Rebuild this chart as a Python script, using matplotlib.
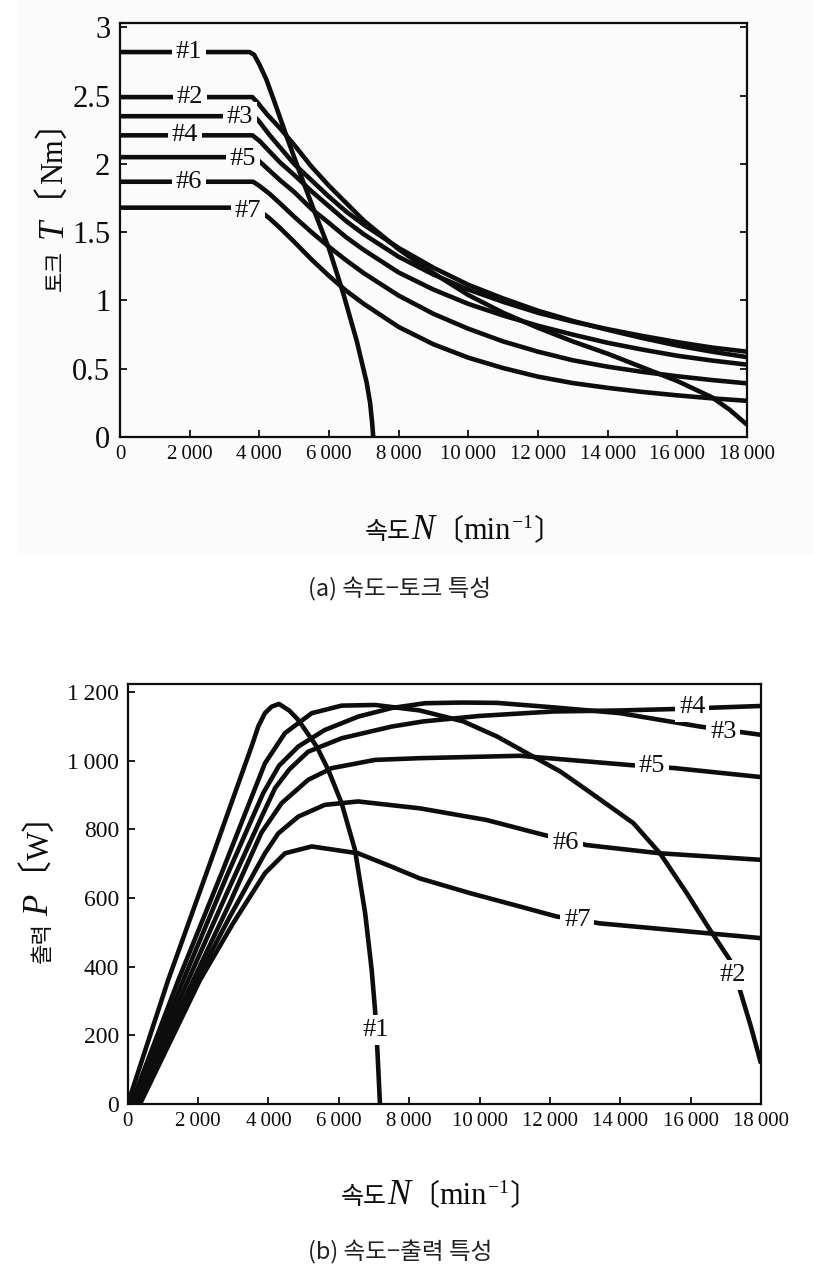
import matplotlib
matplotlib.use("Agg")
import matplotlib.pyplot as plt
from matplotlib.transforms import IdentityTransform
from matplotlib.patches import Rectangle

# ---------------- data ----------------
motors = ["#1", "#2", "#3", "#4", "#5", "#6", "#7"]

speed_ticks = [0, 2000, 4000, 6000, 8000, 10000, 12000, 14000, 16000, 18000]
speed_tick_labels = ["0", "2\u2009000", "4\u2009000", "6\u2009000", "8\u2009000", "10\u2009000",
                     "12\u2009000", "14\u2009000", "16\u2009000", "18\u2009000"]
torque_ticks = [0, 0.5, 1, 1.5, 2, 2.5, 3]
torque_tick_labels = ["0", "0.5", "1", "1.5", "2", "2.5", "3"]
power_ticks = [0, 200, 400, 600, 800, 1000, 1200]
power_tick_labels = ["0", "200", "400", "600", "800", "1\u2009000", "1\u2009200"]

# (a) speed - torque
t1_speed = [0, 3720, 3850, 4000, 4200, 4400, 4800, 5200, 5600, 6000, 6400, 6800, 7080, 7180, 7240, 7270]
t1_torque = [2.82, 2.82, 2.80, 2.73, 2.62, 2.48, 2.19, 1.91, 1.64, 1.38, 1.06, 0.70, 0.40, 0.25, 0.10, 0.0]
t2_speed = [0, 3800, 3950, 4200, 4600, 5000, 5500, 6000, 7000, 8000, 9000, 10000, 11000, 12000,
            13000, 14000, 15000, 16000, 17000, 17500, 18000]
t2_torque = [2.49, 2.49, 2.45, 2.37, 2.26, 2.14, 1.98, 1.84, 1.585, 1.375, 1.20, 1.04, 0.91, 0.80,
             0.70, 0.61, 0.51, 0.41, 0.29, 0.20, 0.09]
t3_speed = [0, 3850, 4000, 4300, 4600, 5000, 5500, 6000, 6500, 7000, 8000, 9000, 10000, 11000,
            12000, 13000, 14000, 15000, 16000, 17000, 18000]
t3_torque = [2.35, 2.35, 2.31, 2.21, 2.12, 2.00, 1.88, 1.76, 1.65, 1.555, 1.385, 1.24, 1.115, 1.015,
             0.925, 0.85, 0.785, 0.725, 0.67, 0.625, 0.585]
t4_speed = [0, 3800, 4000, 4300, 4600, 5000, 5500, 6000, 6500, 7000, 8000, 9000, 10000, 11000,
            12000, 13000, 14000, 15000, 16000, 17000, 18000]
t4_torque = [2.21, 2.21, 2.17, 2.09, 2.01, 1.92, 1.80, 1.69, 1.58, 1.485, 1.32, 1.19, 1.08, 0.99,
             0.91, 0.845, 0.79, 0.74, 0.695, 0.655, 0.625]
t5_speed = [0, 3850, 4000, 4300, 4600, 5000, 5500, 6000, 6500, 7000, 8000, 9000, 10000, 11000,
            12000, 13000, 14000, 15000, 16000, 17000, 18000]
t5_torque = [2.05, 2.05, 2.02, 1.95, 1.88, 1.795, 1.67, 1.568, 1.462, 1.37, 1.205, 1.08, 0.975, 0.89,
             0.815, 0.75, 0.69, 0.64, 0.595, 0.56, 0.53]
t6_speed = [0, 3820, 4000, 4300, 4600, 5000, 5500, 6000, 6500, 7000, 8000, 9000, 10000, 11000,
            12000, 13000, 14000, 15000, 16000, 17000, 18000]
t6_torque = [1.87, 1.87, 1.84, 1.78, 1.71, 1.614, 1.50, 1.393, 1.293, 1.20, 1.036, 0.902, 0.793, 0.70,
             0.625, 0.562, 0.515, 0.477, 0.445, 0.417, 0.393]
t7_speed = [0, 3850, 4000, 4300, 4600, 5000, 5500, 6000, 6500, 7000, 8000, 9000, 10000, 11000,
            12000, 13000, 14000, 15000, 16000, 17000, 18000]
t7_torque = [1.68, 1.68, 1.66, 1.60, 1.53, 1.43, 1.30, 1.18, 1.07, 0.975, 0.806, 0.679, 0.581, 0.505,
             0.442, 0.395, 0.36, 0.33, 0.305, 0.283, 0.265]

# (b) speed - output power
p1_speed = [0, 1150, 2300, 3520, 3710, 3900, 4090, 4300, 4600, 4850, 5370, 5700, 6080, 6460, 6750,
            6935, 7030, 7100, 7170]
p1_power = [0, 361, 690, 1041, 1099, 1138, 1157, 1165, 1145, 1118, 1041, 973, 876, 740, 555,
            390, 274, 150, 0]
p2_speed = [100, 1440, 2700, 3900, 4470, 5230, 6080, 7030, 8300, 9540, 10500, 11430, 12300, 13040,
            14370, 15130, 15890, 16550, 17120, 17400, 17700, 18000]
p2_power = [0, 361, 680, 992, 1080, 1138, 1160, 1162, 1146, 1114, 1070, 1017, 968, 915,
            818, 730, 614, 507, 419, 332, 230, 118]
p3_speed = [150, 1580, 2800, 3850, 4300, 4850, 5600, 6550, 7500, 8450, 9500, 10500, 12100, 14000,
            16270, 18000]
p3_power = [0, 361, 660, 905, 985, 1041, 1089, 1128, 1153, 1167, 1169, 1168, 1155, 1138, 1099, 1075]
p4_speed = [200, 1720, 2800, 3800, 4190, 4600, 5130, 6080, 7500, 8400, 10000, 12100, 14000, 15500, 18000]
p4_power = [0, 361, 610, 835, 920, 975, 1026, 1065, 1099, 1114, 1130, 1143, 1146, 1150, 1159]
p5_speed = [250, 1865, 2900, 3800, 4375, 5130, 5800, 7030, 8300, 11150, 14275, 15555, 18000]
p5_power = [0, 361, 585, 790, 876, 944, 978, 1002, 1007, 1014, 987, 978, 952]
p6_speed = [300, 1960, 2900, 3900, 4280, 4850, 5600, 6550, 8300, 10200, 11810, 13040, 15130, 18000]
p6_power = [0, 361, 545, 730, 788, 837, 871, 881, 861, 827, 784, 754, 730, 711]
p7_speed = [350, 2055, 3000, 3900, 4470, 5230, 6550, 7500, 8300, 9730, 11150, 12190, 13420, 18000]
p7_power = [0, 361, 527, 672, 730, 750, 730, 691, 657, 614, 575, 546, 526, 483]

torque_series = [(t1_speed, t1_torque), (t2_speed, t2_torque), (t3_speed, t3_torque),
                 (t4_speed, t4_torque), (t5_speed, t5_torque), (t6_speed, t6_torque),
                 (t7_speed, t7_torque)]
power_series = [(p1_speed, p1_power), (p2_speed, p2_power), (p3_speed, p3_power),
                (p4_speed, p4_power), (p5_speed, p5_power), (p6_speed, p6_power),
                (p7_speed, p7_power)]

# label anchor points (data coordinates) for the curve names
torque_label_at = {"#1": (1980, 2.82), "#2": (2010, 2.49), "#3": (3445, 2.345), "#4": (1866, 2.21),
                   "#5": (3531, 2.04), "#6": (1981, 1.87), "#7": (3675, 1.655)}
power_label_at = {"#1": (7057, 216), "#2": (17184, 376), "#3": (16928, 1082), "#4": (16047, 1157),
                  "#5": (14892, 983), "#6": (12447, 761), "#7": (12778, 536)}

# ---------------- figure ----------------
W, H, DPI = 813, 1278, 100
SERIF = ["Liberation Serif", "DejaVu Serif", "Noto Sans CJK KR"]
CJK = ["Noto Sans CJK KR", "DejaVu Sans"]
INK = "#0d0d0d"
BG_TOP = "#fbfbfb"

fig = plt.figure(figsize=(W / DPI, H / DPI), dpi=DPI)
fig.patch.set_facecolor("white")
fig.patches.append(Rectangle((18 / W, 1 - 554 / H), (W - 18) / W, 554 / H,
                             transform=fig.transFigure, facecolor=BG_TOP,
                             edgecolor="none", zorder=-10))


def px_axes(left, top, right, bottom):
    return fig.add_axes([left / W, 1 - bottom / H, (right - left) / W, (bottom - top) / H])


ax1 = px_axes(120, 22.7, 747, 437)
ax2 = px_axes(127.7, 684, 761, 1104)

for ax in (ax1, ax2):
    ax.set_facecolor("none")
    for s in ax.spines.values():
        s.set_linewidth(1.6)
        s.set_color(INK)
    ax.set_xlim(0, 18000)
    ax.set_xticks(speed_ticks)
    ax.set_xticklabels(speed_tick_labels, fontfamily=SERIF, fontsize=15, color=INK)
    ax.tick_params(direction="in", length=5, width=1.3, color=INK)

# (a) torque panel
ax1.set_ylim(0, 3.035)
ax1.set_yticks(torque_ticks)
ax1.set_yticklabels(torque_tick_labels, fontfamily=SERIF, fontsize=22, color=INK)
ax1.tick_params(axis="y", right=True, pad=7)
ax1.tick_params(axis="x", pad=6)
for (n, t) in torque_series:
    ax1.plot(n, t, color=INK, lw=3.3, solid_joinstyle="round", solid_capstyle="butt", zorder=3)
for name in motors:
    x, y = torque_label_at[name]
    ax1.text(x, y, name, ha="center", va="center", fontfamily=SERIF, fontsize=19, color=INK,
             zorder=5, bbox=dict(boxstyle="square,pad=0.15", fc=BG_TOP, ec="none"))

# (b) power panel
ax2.set_ylim(0, 1223)
ax2.set_yticks(power_ticks)
ax2.set_yticklabels(power_tick_labels, fontfamily=SERIF, fontsize=17, color=INK)
ax2.tick_params(axis="y", pad=6)
ax2.tick_params(axis="x", pad=6)
for (n, p) in power_series:
    ax2.plot(n, p, color=INK, lw=3.3, solid_joinstyle="round", solid_capstyle="butt", zorder=3)
for name in motors:
    x, y = power_label_at[name]
    ax2.text(x, y, name, ha="center", va="center", fontfamily=SERIF, fontsize=19, color=INK,
             zorder=5, bbox=dict(boxstyle="square,pad=0.15", fc="white", ec="none"))


# ---------------- composite axis titles ----------------
def compose(pieces, cx, cy, vertical=False):
    """pieces: list of (text, props, shift, gap_before); cx/cy in image pixels
    (cy measured from the top). For vertical titles cx is the baseline."""
    r = fig.canvas.get_renderer()
    placed = []
    total = 0.0
    for s, props, shift, gap in pieces:
        t = fig.text(0, 0, s, transform=IdentityTransform(), rotation=90 if vertical else 0,
                     rotation_mode="anchor", ha="left", va="baseline", color=INK, **props)
        bb = t.get_window_extent(renderer=r)
        L = bb.height if vertical else bb.width
        placed.append((t, shift, gap, L))
        total += gap + L
    dy = H - cy
    pos = (dy if vertical else cx) - total / 2
    for t, shift, gap, L in placed:
        pos += gap
        if vertical:
            t.set_position((cx - shift, pos))
        else:
            t.set_position((pos, dy + shift))
        pos += L


k_hangul = dict(fontfamily=CJK, fontsize=16)
k_bracket = dict(fontfamily=CJK, fontsize=21)
k_ital = dict(fontfamily=SERIF, fontsize=25, fontstyle="italic")
k_unit = dict(fontfamily=SERIF, fontsize=22)
k_close_v = dict(fontfamily=CJK, fontsize=24)
k_sup = dict(fontfamily=SERIF, fontsize=14)

# y titles: every rotated run starts with an inked glyph (opening bracket rides after the symbol)
compose([("토크", k_hangul, 0, 0), ("T〔", k_ital, 0, 12), ("Nm", k_unit, 0, 0),
         ("〕", k_close_v, 0, 0)], 62, 198, vertical=True)
compose([("출력", k_hangul, 0, 0), ("P〔", k_ital, 0, 6), ("W", k_unit, 0, 0),
         ("〕", k_close_v, 0, 0)], 49, 880, vertical=True)

# x titles
xt = [("속도", dict(fontfamily=CJK, fontsize=18), 0, 0), ("N", k_ital, 0, 0),
      ("〔", k_bracket, 0, 0), ("min", k_unit, 0, 0),
      ("\u22121", k_sup, 11, 1), ("〕", k_bracket, 0, 1)]
compose(xt, 464, 539)
compose(xt, 440, 1204)

# captions
fig.text(400 / W, 1 - 588 / H, "(a) 속도−토크 특성", ha="center", va="center",
         fontfamily=CJK, fontsize=17, color="#222222")
fig.text(400 / W, 1 - 1252 / H, "(b) 속도−출력 특성", ha="center", va="center",
         fontfamily=CJK, fontsize=17, color="#222222")

fig.savefig("out.png", dpi=DPI, facecolor=fig.get_facecolor())
